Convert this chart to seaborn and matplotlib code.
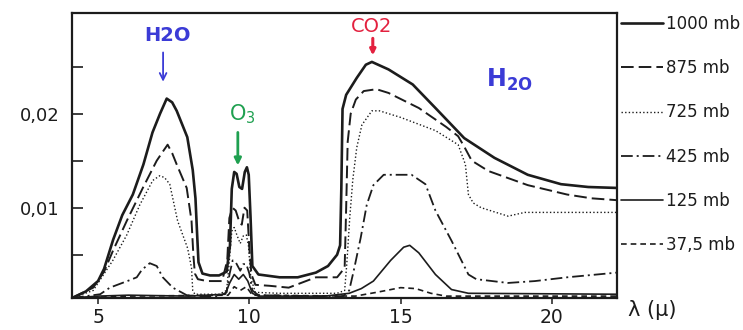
import matplotlib
matplotlib.use("Agg")
import matplotlib.pyplot as plt
import seaborn as sns
import pandas as pd

# ---------------- data ----------------
labels = ["1000 mb", "875 mb", "725 mb", "425 mb", "125 mb", "37,5 mb"]

wl_1000 = [4.14, 4.6, 5.0, 5.2, 5.5, 5.8, 6.15, 6.5, 6.8, 7.05, 7.27, 7.45, 7.6, 7.95, 8.13,
           8.22, 8.27, 8.32, 8.45, 8.7, 9.0, 9.25, 9.36, 9.42, 9.5, 9.58, 9.67, 9.76, 9.85,
           9.92, 9.98, 10.04, 10.1, 10.3, 11.0, 11.6, 12.2, 12.6, 12.9, 13.0, 13.04, 13.08,
           13.2, 13.55, 13.85, 14.05, 14.6, 15.4, 16.15, 17.1, 18.1, 19.2, 20.3, 21.2, 22.15]
ab_1000 = [0.0004, 0.0011, 0.0022, 0.0035, 0.0066, 0.0092, 0.0114, 0.0146, 0.0180, 0.0200,
           0.0216, 0.0212, 0.0203, 0.0175, 0.0140, 0.0110, 0.0075, 0.0042, 0.0030, 0.0028,
           0.0028, 0.0032, 0.0060, 0.0120, 0.0138, 0.0136, 0.0122, 0.0120, 0.0138, 0.0143,
           0.0135, 0.0090, 0.0038, 0.0029, 0.0026, 0.0026, 0.0031, 0.0038, 0.0050, 0.0060,
           0.0120, 0.0205, 0.0220, 0.0238, 0.0252, 0.0255, 0.0247, 0.0231, 0.0206, 0.0174,
           0.0153, 0.0135, 0.0125, 0.0122, 0.0121]

wl_875 = [4.14, 4.84, 5.2, 5.49, 5.95, 6.48, 6.94, 7.15, 7.3, 7.45, 7.6, 7.93, 8.09, 8.15,
          8.2, 8.3, 8.6, 9.1, 9.27, 9.34, 9.44, 9.55, 9.67, 9.75, 9.84, 9.93, 10.0, 10.07,
          10.2, 10.66, 11.3, 12.2, 12.9, 13.15, 13.2, 13.25, 13.35, 13.52, 13.78, 14.2, 14.6,
          15.6, 16.5, 16.9, 17.1, 17.35, 17.9, 19.2, 20.5, 21.3, 22.15]
ab_875 = [0.0004, 0.0015, 0.0032, 0.0054, 0.0086, 0.0121, 0.0150, 0.0160, 0.0167, 0.0158,
          0.0146, 0.0121, 0.0086, 0.0050, 0.0030, 0.0024, 0.0022, 0.0022, 0.0044, 0.0089,
          0.0100, 0.0097, 0.0085, 0.0082, 0.0100, 0.0097, 0.0057, 0.0029, 0.0018, 0.0017,
          0.0015, 0.0026, 0.0026, 0.0036, 0.0100, 0.0170, 0.0200, 0.0215, 0.0224, 0.0226,
          0.0222, 0.0206, 0.0186, 0.0176, 0.0165, 0.0150, 0.0139, 0.0124, 0.0114, 0.0110,
          0.0108]

wl_725 = [4.14, 4.84, 5.49, 5.95, 6.38, 6.81, 7.04, 7.2, 7.37, 7.63, 7.96, 8.09, 8.13, 8.2,
          9.0, 9.25, 9.33, 9.42, 9.5, 9.6, 9.7, 9.8, 9.9, 9.97, 10.05, 10.2, 11.0, 12.0, 12.9,
          13.15, 13.22, 13.32, 13.42, 13.55, 13.72, 14.05, 14.3, 15.0, 16.15, 16.9, 17.14,
          17.24, 17.4, 17.66, 18.55, 19.1, 20.5, 22.15]
ab_725 = [0.0004, 0.0012, 0.0044, 0.0071, 0.0103, 0.0129, 0.0134, 0.0132, 0.0125, 0.0086,
          0.0057, 0.0036, 0.0012, 0.0008, 0.0008, 0.0012, 0.0040, 0.0075, 0.0079, 0.0070,
          0.0062, 0.0070, 0.0071, 0.0060, 0.0025, 0.0010, 0.0009, 0.0009, 0.0009, 0.0012,
          0.0040, 0.0090, 0.0130, 0.0164, 0.0188, 0.0203, 0.0203, 0.0196, 0.0182, 0.0167,
          0.0146, 0.0114, 0.0105, 0.0100, 0.0091, 0.0095, 0.0095, 0.0095]

wl_425 = [4.14, 5.07, 5.39, 6.05, 6.28, 6.45, 6.71, 6.94, 7.14, 7.47, 7.93, 8.3, 9.0, 9.25,
          9.35, 9.45, 9.55, 9.7, 9.8, 9.9, 10.0, 10.1, 10.3, 12.0, 13.1, 13.3, 13.45, 13.68,
          13.88, 14.1, 14.44, 15.1, 15.36, 15.82, 16.15, 16.68, 17.24, 17.5, 18.55, 19.44,
          20.5, 22.15]
ab_425 = [0.0004, 0.0008, 0.0015, 0.0023, 0.0026, 0.0034, 0.0041, 0.0038, 0.0026, 0.0015,
          0.0007, 0.0006, 0.0006, 0.0010, 0.0030, 0.0044, 0.0042, 0.0033, 0.0040, 0.0040,
          0.0030, 0.0012, 0.0007, 0.0006, 0.0006, 0.0012, 0.0033, 0.0068, 0.0103, 0.0124,
          0.0135, 0.0135, 0.0135, 0.0125, 0.0097, 0.0065, 0.0029, 0.0024, 0.0020, 0.0022,
          0.0026, 0.0031]

wl_125 = [4.14, 5.0, 6.0, 8.0, 9.2, 9.35, 9.5, 9.65, 9.8, 9.95, 10.1, 10.3, 12.5, 13.3,
          13.7, 14.1, 14.67, 15.1, 15.3, 15.6, 16.15, 16.68, 17.24, 22.15]
ab_125 = [0.0004, 0.0006, 0.0007, 0.0006, 0.0008, 0.0020, 0.0029, 0.0024, 0.0029, 0.0022,
          0.0009, 0.0006, 0.0006, 0.0009, 0.0014, 0.0022, 0.0044, 0.0058, 0.0060, 0.0052,
          0.0029, 0.0013, 0.0009, 0.0008]

wl_37 = [4.14, 6.0, 9.3, 9.5, 9.7, 9.9, 10.1, 13.5, 14.2, 15.0, 15.5, 16.0, 16.5, 22.15]
ab_37 = [0.0004, 0.0006, 0.0007, 0.0016, 0.0012, 0.0016, 0.0007, 0.0006, 0.0010, 0.0015,
         0.0014, 0.0009, 0.0006, 0.0006]

xticks = [5, 10, 15, 20]
xtick_labels = ["5", "10", "15", "20"]
yticks = [0.01, 0.02]
ytick_labels = ["0,01", "0,02"]
yminor = [0.005, 0.015, 0.025]

# ---------------- style ----------------
sns.set_theme(style="white")
plt.rcParams['font.family'] = ['DejaVu Sans']
ink = "#1c1c1c"

frames = []
for lab, wl, ab in zip(labels,
                       [wl_1000, wl_875, wl_725, wl_425, wl_125, wl_37],
                       [ab_1000, ab_875, ab_725, ab_425, ab_125, ab_37]):
    frames.append(pd.DataFrame({"wl": wl, "ab": ab, "p": lab}))
df = pd.concat(frames, ignore_index=True)

styles = {
    "1000 mb": dict(lw=1.9, ls="-"),
    "875 mb": dict(lw=1.4, ls=(0, (6.5, 2.6))),
    "725 mb": dict(lw=1.0, ls=(0, (1.0, 1.6))),
    "425 mb": dict(lw=1.3, ls=(0, (6.5, 2.2, 1.1, 2.2))),
    "125 mb": dict(lw=1.2, ls="-"),
    "37,5 mb": dict(lw=1.2, ls=(0, (3.4, 2.4))),
}

fig = plt.figure(figsize=(7.43, 3.30), dpi=100)
ax = fig.add_axes([72 / 743, 1 - 298 / 330, (617 - 72) / 743, (298 - 13) / 330])

for lab in labels:
    sub = df[df["p"] == lab]
    st = styles[lab]
    sns.lineplot(data=sub, x="wl", y="ab", ax=ax, color=ink, linewidth=st["lw"],
                 linestyle=st["ls"], label=lab, sort=False, estimator=None)

ax.set_xlim(4.14, 22.15)
ax.set_ylim(0.0004, 0.0307)
ax.set_xlabel("")
ax.set_ylabel("")

ax.set_xticks(xticks)
ax.set_xticklabels(xtick_labels, fontsize=13.5)
ax.set_yticks(yticks)
ax.set_yticklabels(ytick_labels, fontsize=13)
ax.set_yticks(yminor, minor=True)
ax.tick_params(axis="x", which="major", bottom=True, direction="out", length=4, width=1.1,
               pad=3, colors=ink)
ax.tick_params(axis="y", which="both", left=True, direction="in", length=8, width=1.2,
               pad=9, colors=ink)
for sp in ax.spines.values():
    sp.set_visible(True)
    sp.set_color(ink)
    sp.set_linewidth(1.6)

# legend outside at right
handles, labs = ax.get_legend_handles_labels()
ax.legend(handles, labs, loc="upper left", bbox_to_anchor=(621 / 743, 1 - 15 / 330),
          bbox_transform=fig.transFigure, frameon=False, borderpad=0, borderaxespad=0,
          handlelength=2.5, handletextpad=0.2, labelspacing=1.57,
          prop=dict(size=12), labelcolor=ink)

# axis label
fig.text(628 / 743, 1 - 310 / 330, "λ (μ)", fontsize=15, color=ink, va="center", ha="left")

# handwritten-style annotations
blue = "#3b3bd6"
green = "#1fa050"
red = "#e3213f"
ax.text(7.28, 0.0283, "H2O", color=blue, fontsize=14, fontweight="bold",
        ha="center", va="center")
ax.annotate("", xy=(7.15, 0.0231), xytext=(7.15, 0.0268),
            arrowprops=dict(arrowstyle="->", color=blue, lw=1.3))
ax.text(9.78, 0.0199, "O$_3$", color=green, fontsize=15,
        ha="center", va="center")
ax.annotate("", xy=(9.62, 0.0142), xytext=(9.62, 0.0183),
            arrowprops=dict(arrowstyle="-|>", color=green, lw=2.0, mutation_scale=10))
ax.text(14.05, 0.0293, "CO2", color=red, fontsize=14,
        ha="center", va="center")
ax.annotate("", xy=(14.08, 0.0259), xytext=(14.08, 0.0283),
            arrowprops=dict(arrowstyle="-|>", color=red, lw=2.2, mutation_scale=8))
ax.text(18.6, 0.0236, r"H$_{\mathbf{2O}}$", color=blue, fontsize=17, fontweight="bold",
        ha="center", va="center")

fig.savefig("out.png", dpi=100)
